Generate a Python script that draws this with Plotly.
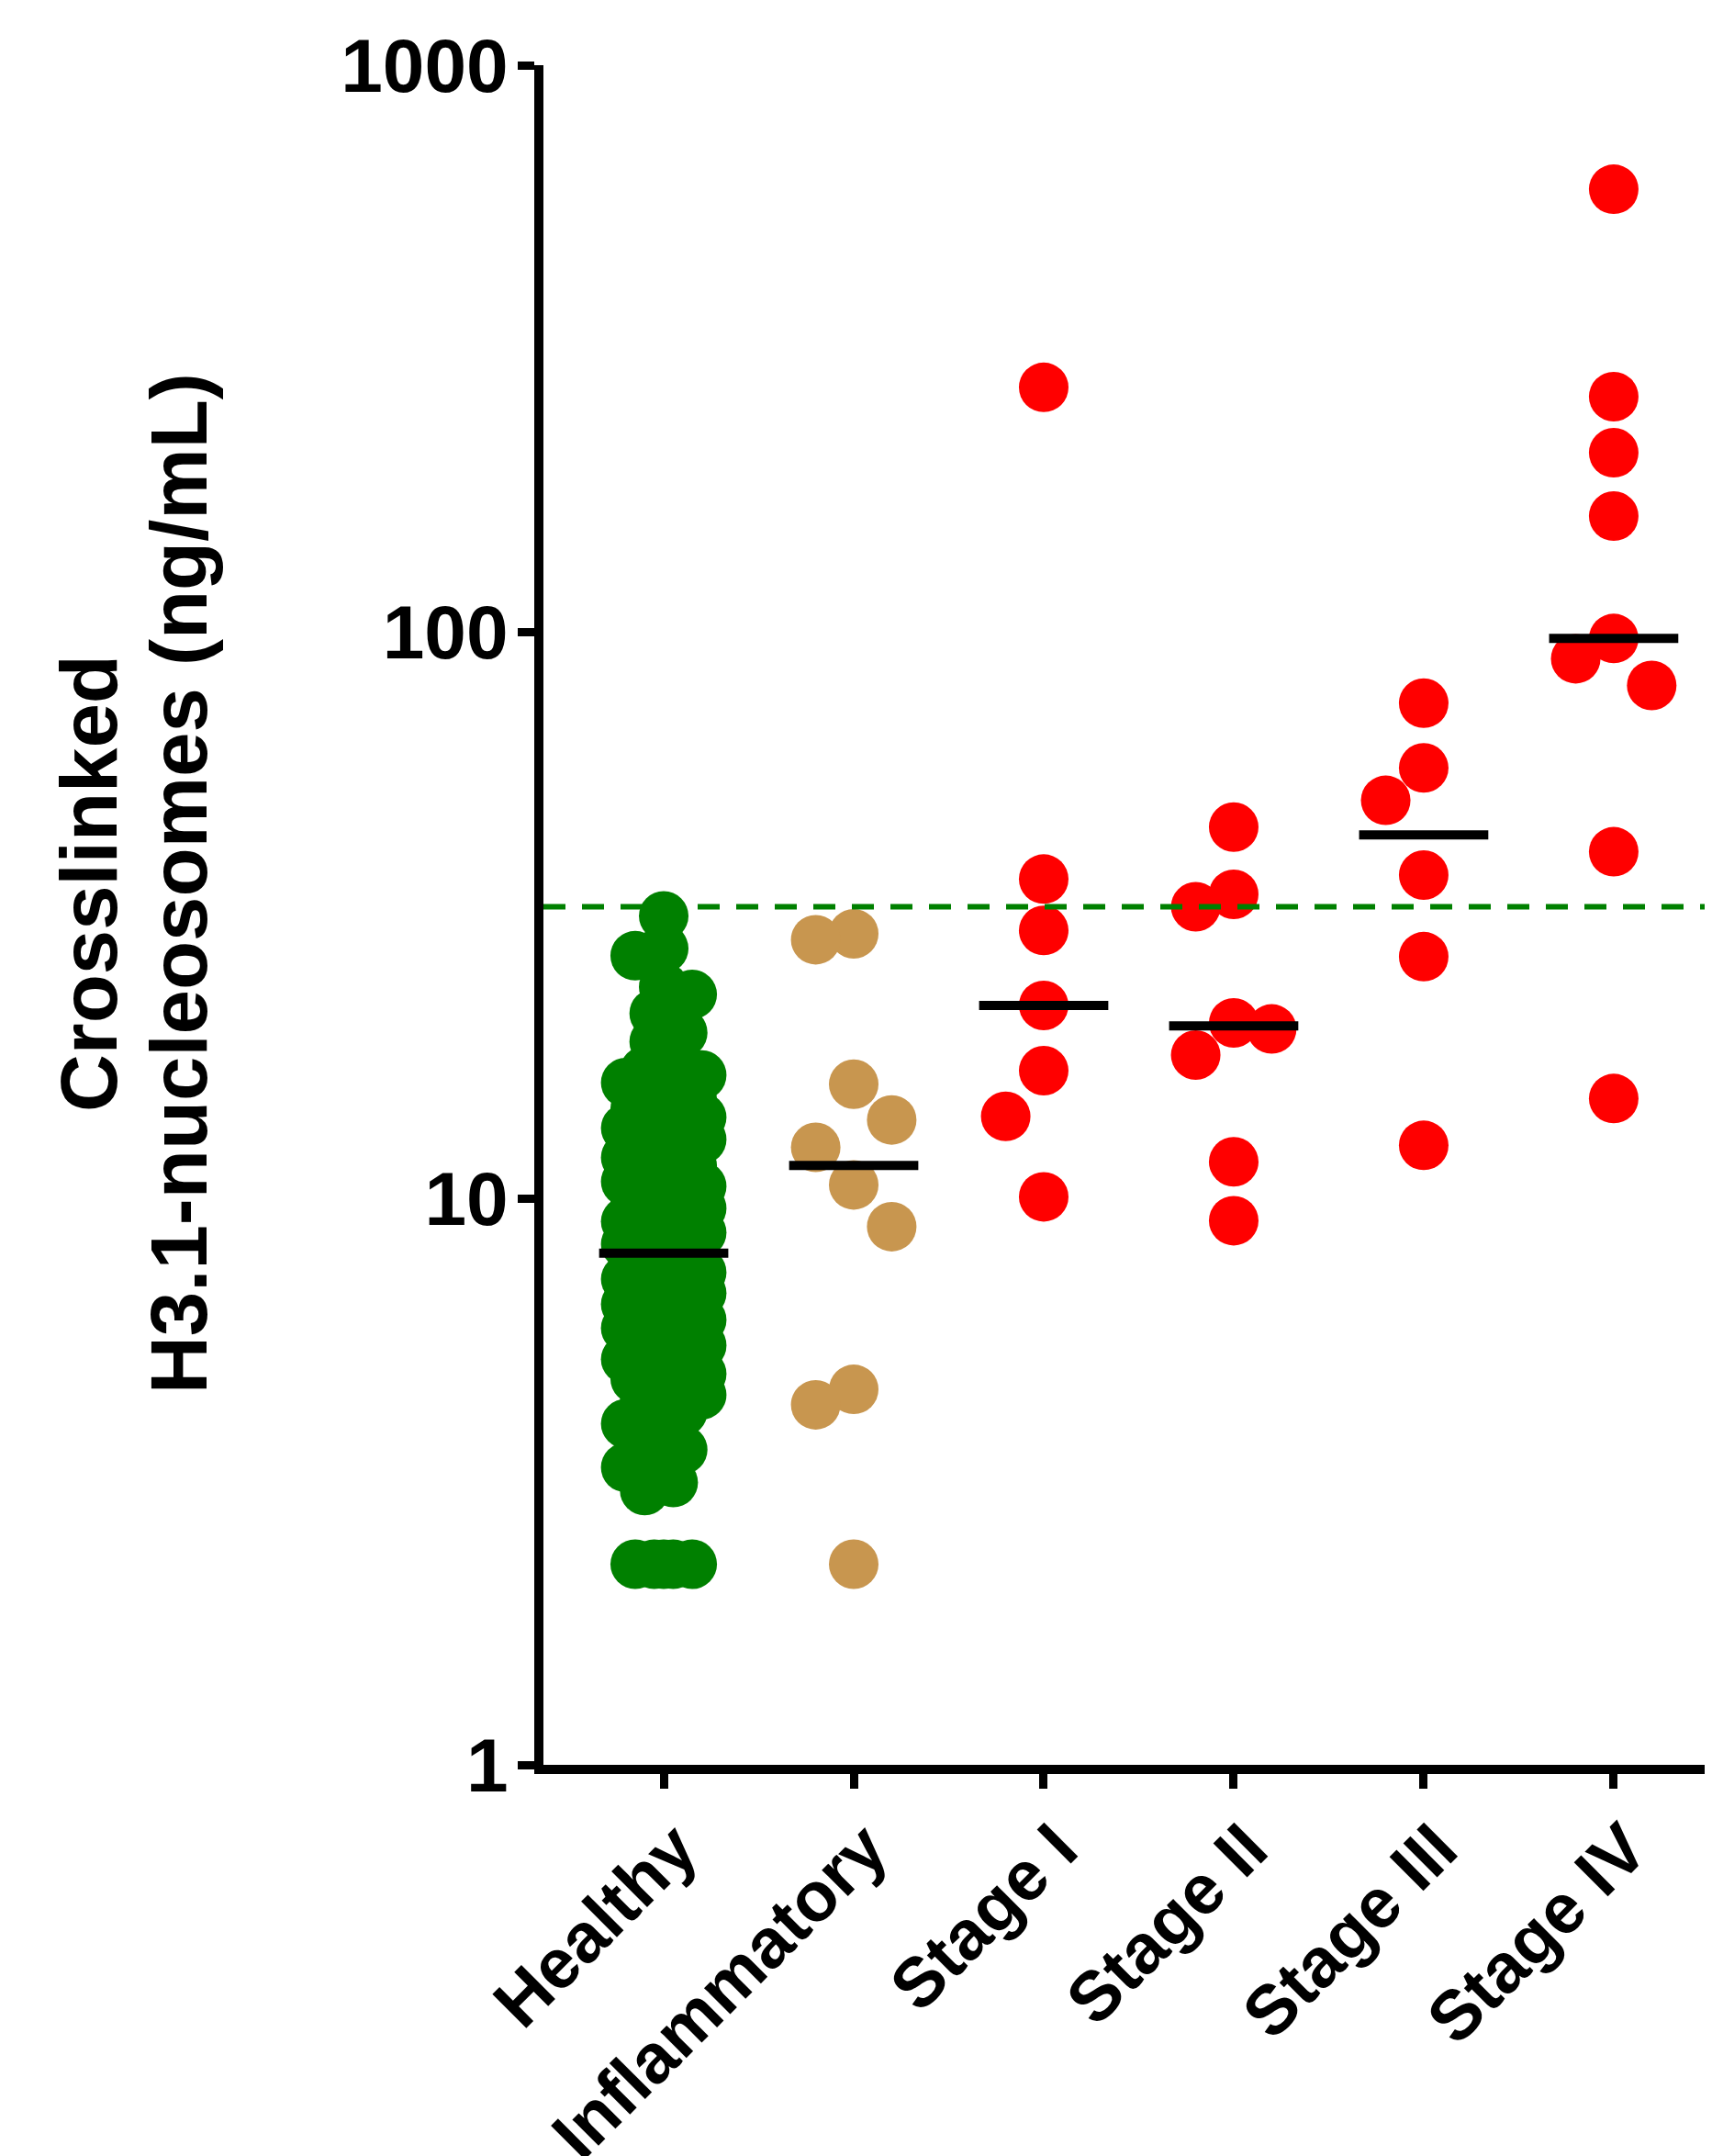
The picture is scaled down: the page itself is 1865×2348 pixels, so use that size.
import math
import numpy as np
import plotly.graph_objects as go

# ---------------- data ----------------
categories = ["Healthy", "Inflammatory", "Stage I", "Stage II", "Stage III", "Stage IV"]

healthy = [31.5, 27.6, 26.8, 23.6, 22.9, 21.2, 19.6, 18.9, 17.2, 16.8, 16.5, 16.0,
           15.2, 14.9, 14.4, 14.1, 13.9, 13.5, 13.3, 12.9, 12.7, 12.3, 12.1, 11.8,
           11.4, 11.2, 10.9, 10.7, 10.5, 10.3, 10.1, 9.9, 9.6, 9.5, 9.3, 9.1, 8.9,
           8.7, 8.5, 8.3, 8.1, 7.9, 7.7, 7.6, 7.5, 7.4, 7.2, 7.0, 6.9, 6.8, 6.6, 6.5,
           6.4, 6.3, 6.1, 6.0, 5.9, 5.7, 5.6, 5.5, 5.4, 5.2, 5.1, 4.95, 4.9, 4.8,
           4.6, 4.5, 4.4, 4.2, 4.0, 3.9, 3.6, 3.45, 3.35, 3.15, 3.05,
           2.26, 2.26, 2.26, 2.26, 2.26]
inflammatory = [29.3, 28.6, 15.9, 13.75, 12.3, 10.56, 8.91, 4.60, 4.32, 2.26]
stage1 = [270, 36.6, 29.7, 21.9, 16.8, 13.95, 10.06]
stage2 = [45.2, 34.4, 32.7, 20.4, 19.9, 17.9, 11.6, 9.13]
stage3 = [74.8, 57.5, 50.4, 37.2, 26.7, 12.4]
stage4 = [604, 260, 207, 160, 97.3, 89.6, 80.4, 40.9, 15.0]
cutoff = 32.7

y_tickvals = [1, 10, 100, 1000]
y_ticktext = ["1", "10", "100", "1000"]

groups = [healthy, inflammatory, stage1, stage2, stage3, stage4]
colors = ["#008000", "#C8964F", "#FF0000", "#FF0000", "#FF0000", "#FF0000"]

# ---------------- layout geometry ----------------
W, H = 1865, 2348
PAGE_OFF = 8                       # default body margin of the html page
PLOT_L, PLOT_T, PLOT_B = 592, 71, 1922   # target plot-area edges on the page
ML = PLOT_L - PAGE_OFF
MT = PLOT_T - PAGE_OFF
MB = H + PAGE_OFF - PLOT_B
MR = 0
x_range = [-0.633, 5.556]
y_range_log = [0, 3]
PLOT_W = W - ML - MR
PLOT_H = H - MT - MB
px_per_unit = PLOT_W / (x_range[1] - x_range[0])
px_per_dec = PLOT_H / (y_range_log[1] - y_range_log[0])
MARKER = 54


def swarm(vals, step, maxoff, thresh):
    """Deterministic beeswarm offsets (in category units)."""
    n = len(vals)
    order = sorted(range(n), key=lambda i: -vals[i])
    ks = int(round(maxoff / step))
    placed = []
    offs = [0.0] * n
    side = -1
    for i in order:
        y = math.log10(vals[i]) * px_per_dec
        cands = [0.0]
        for k in range(1, ks + 1):
            cands += [side * k * step, -side * k * step]
        chosen, best, bestd = None, None, -1.0
        for c in cands:
            d = min((math.hypot((c - o) * px_per_unit, y - yy) for o, yy in placed),
                    default=1e9)
            if d >= thresh:
                chosen = c
                break
            if d > bestd + 1e-9:
                bestd, best = d, c
        if chosen is None:
            chosen = best
        if chosen > 0:
            side = -1
        elif chosen < 0:
            side = 1
        offs[i] = chosen
        placed.append((chosen, y))
    return offs


fig = go.Figure()

# points
for gi, (vals, col) in enumerate(zip(groups, colors)):
    if gi == 0:
        offs = swarm(vals, 0.05, 0.19, 30)
    else:
        offs = swarm(vals, 0.2, 0.2, 55)
    fig.add_trace(go.Scatter(
        x=[gi + o for o in offs], y=vals, mode="markers",
        marker=dict(size=MARKER, color=col, line=dict(width=0)),
        showlegend=False, hoverinfo="y", cliponaxis=False))

# cutoff dashed line
fig.add_trace(go.Scatter(
    x=x_range, y=[cutoff, cutoff], mode="lines",
    line=dict(color="#008000", width=6, dash="24px,18px"),
    showlegend=False, hoverinfo="skip"))

# medians
for gi, vals in enumerate(groups):
    med = float(np.median(vals))
    fig.add_trace(go.Scatter(
        x=[gi - 0.34, gi + 0.34], y=[med, med], mode="lines",
        line=dict(color="black", width=10),
        showlegend=False, hoverinfo="skip"))

# y-axis title (two lines)
title_font = dict(family="Liberation Sans, Arial, sans-serif", size=87, color="black", weight="bold")
for txt, px in [("Crosslinked", 96), ("H3.1-nucleosomes (ng/mL)", 194)]:
    fig.add_annotation(
        text=txt, xref="paper", yref="paper",
        x=(px - PLOT_L) / PLOT_W, y=(PLOT_B - 962) / PLOT_H,
        xanchor="center", yanchor="middle", textangle=-90,
        showarrow=False, font=title_font)

fig.update_layout(
    width=W, height=H,
    margin=dict(l=ML, r=MR, t=MT, b=MB, pad=0, autoexpand=False),
    paper_bgcolor="white", plot_bgcolor="white",
    showlegend=False,
    xaxis=dict(
        range=x_range, tickvals=list(range(len(categories))), ticktext=categories,
        tickangle=-45, showline=True, linewidth=10, linecolor="black",
        ticks="outside", ticklen=16, tickwidth=9, tickcolor="black",
        showgrid=False, zeroline=False, automargin=False,
        ticklabelshift=14, ticklabelstandoff=-10,
        tickfont=dict(family="Liberation Sans, Arial, sans-serif", size=76,
                      color="black", weight="bold")),
    yaxis=dict(
        type="log", range=y_range_log, tickvals=y_tickvals, ticktext=y_ticktext,
        showline=True, linewidth=10, linecolor="black",
        ticks="outside", ticklen=18, tickwidth=9, tickcolor="black",
        showgrid=False, zeroline=False, automargin=False,
        ticklabelstandoff=-6,
        tickfont=dict(family="Liberation Sans Narrow, Arial Narrow, Liberation Sans, sans-serif",
                      size=82, color="black", weight="bold")),
)

fig.write_html("out.html")
